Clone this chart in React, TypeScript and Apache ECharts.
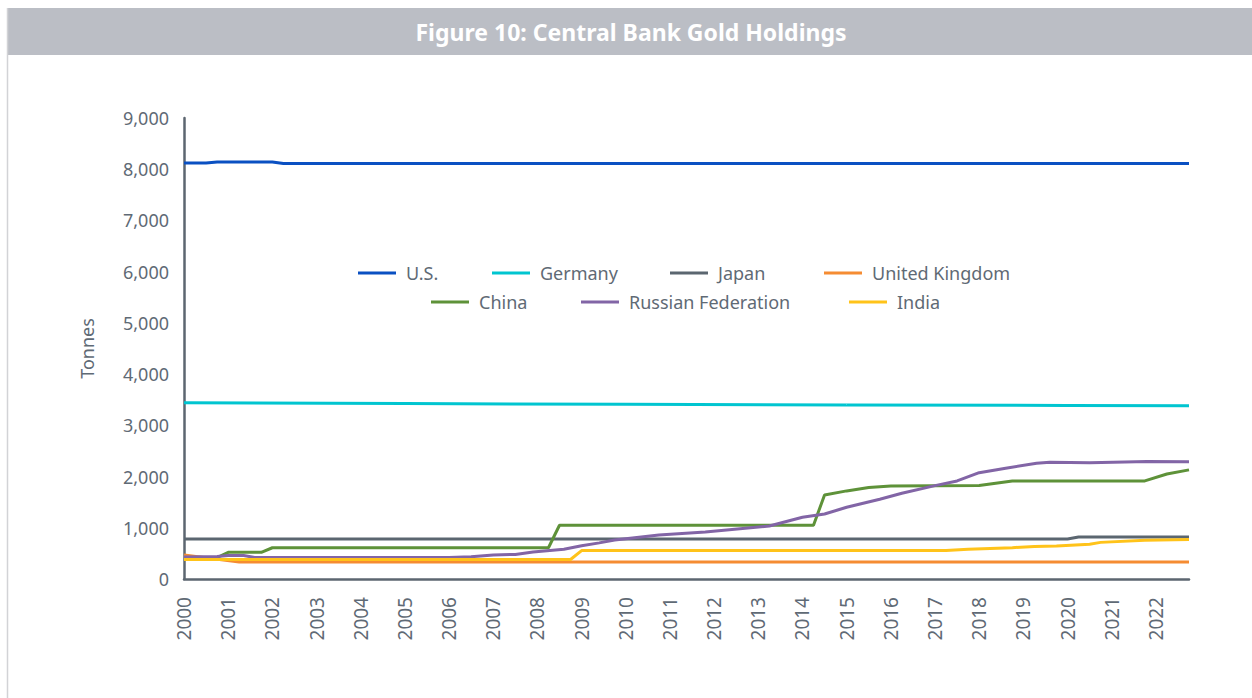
import React, { useEffect, useRef } from "react";
import * as echarts from "echarts";

const TITLE = "Figure 10: Central Bank Gold Holdings";
const Y_NAME = "Tonnes";
const SERIES_NAMES = ["U.S.", "Germany", "Japan", "United Kingdom", "China", "Russian Federation", "India"];
const COLORS = ["#0A50C2", "#00C5D0", "#5B6670", "#F58C32", "#5E9239", "#8265A6", "#FFC31A"];
const Y_TICKS = [0, 1000, 2000, 3000, 4000, 5000, 6000, 7000, 8000, 9000];
const X_START = 2000;
const X_END = 2022.75;

// Year positions (decimal years) and holdings (tonnes)
const US_X = [2000, 2000.5, 2000.75, 2002.0, 2002.25, 2022.75];
const US_Y = [8120, 8120, 8140, 8140, 8110, 8110];

const DE_X = [2000, 2005, 2010, 2015, 2020, 2022.75];
const DE_Y = [3440, 3424, 3410, 3398, 3388, 3383];

const JP_X = [2000, 2020, 2020.25, 2022.75];
const JP_Y = [780, 780, 820, 820];

const UK_X = [2000, 2001.25, 2022.75];
const UK_Y = [470, 330, 330];

const CN_X = [2000, 2000.75, 2001, 2001.75, 2002, 2008.25, 2008.5, 2014.25, 2014.5, 2015, 2015.5, 2016, 2018, 2018.75, 2021.75, 2022.25, 2022.75];
const CN_Y = [420, 420, 520, 520, 610, 610, 1050, 1050, 1640, 1720, 1785, 1815, 1825, 1915, 1915, 2050, 2130];

const RU_X = [2000, 2000.75, 2001, 2001.35, 2001.6, 2006, 2006.5, 2007, 2007.5, 2007.9, 2008.6, 2009, 2009.4, 2009.75, 2010.75, 2011.8, 2013.25, 2014, 2014.5, 2015, 2015.75, 2016.25, 2017, 2017.5, 2018, 2018.6, 2019.3, 2019.6, 2020.5, 2021.3, 2021.8, 2022.75];
const RU_Y = [430, 440, 460, 460, 420, 420, 436, 469, 480, 525, 580, 650, 705, 760, 859, 918, 1035, 1205, 1270, 1400, 1556, 1673, 1823, 1914, 2076, 2162, 2259, 2280, 2270, 2285, 2295, 2291];

const IN_X = [2000, 2008.75, 2009, 2017.25, 2017.75, 2018.75, 2019.25, 2019.75, 2020.5, 2020.75, 2021.75, 2022.75];
const IN_Y = [380, 380, 555, 555, 580, 612, 635, 645, 680, 715, 755, 770];

const SERIES_X = [US_X, DE_X, JP_X, UK_X, CN_X, RU_X, IN_X];
const SERIES_Y = [US_Y, DE_Y, JP_Y, UK_Y, CN_Y, RU_Y, IN_Y];

// Legend item placement (two rows, as in the figure)
const LEGEND_LEFT = [358, 492, 670, 824, 431, 581, 849];
const LEGEND_ROW = [0, 0, 0, 0, 1, 1, 1];
const LEGEND_TOP = [264, 293];

const FONT = "Noto Sans";
const TEXT_COLOR = "#5F6A75";
const AXIS_COLOR = "#5C6670";

export default function App() {
  const ref = useRef<HTMLDivElement>(null);
  useEffect(() => {
    if (!ref.current) return;
    const chart = echarts.init(ref.current, undefined, { renderer: "svg" });
    chart.setOption({
      animation: false,
      backgroundColor: "#ffffff",
      color: COLORS,
      graphic: [
        { type: "rect", shape: { x: 8, y: 8, width: 1244, height: 47 }, style: { fill: "#BBBEC5" }, silent: true },
        { type: "line", shape: { x1: 7.5, y1: 8, x2: 7.5, y2: 698 }, style: { stroke: "#D2D3D6", lineWidth: 1.5 }, silent: true },
        {
          type: "text",
          x: 631,
          y: 32,
          style: {
            text: TITLE,
            fill: "#ffffff",
            font: `bold 23px "${FONT}"`,
            textAlign: "center",
            textVerticalAlign: "middle",
          },
          silent: true,
        },
      ],
      legend: SERIES_NAMES.map((name, i) => ({
        data: [name],
        icon: "rect",
        itemWidth: 38,
        itemHeight: 3,
        padding: 0,
        left: LEGEND_LEFT[i],
        top: LEGEND_TOP[LEGEND_ROW[i]],
        textStyle: { fontFamily: FONT, fontSize: 18, color: TEXT_COLOR, padding: [0, 0, 0, 5] },
      })),
      grid: { left: 184, right: 63, top: 118, bottom: 119, containLabel: false },
      xAxis: {
        type: "value",
        min: X_START,
        max: X_END,
        interval: 1,
        axisLine: { show: true, lineStyle: { color: AXIS_COLOR, width: 2.5 } },
        axisTick: { show: false },
        splitLine: { show: false },
        axisLabel: {
          rotate: 90,
          margin: 18,
          fontFamily: FONT,
          fontSize: 19,
          color: TEXT_COLOR,
          showMaxLabel: false,
          formatter: (v: number) => (Number.isInteger(v) ? String(v) : ""),
        },
      },
      yAxis: {
        type: "value",
        min: Y_TICKS[0],
        max: Y_TICKS[Y_TICKS.length - 1],
        interval: Y_TICKS[1] - Y_TICKS[0],
        name: Y_NAME,
        nameLocation: "middle",
        nameRotate: 90,
        nameGap: 88,
        nameTextStyle: { fontFamily: FONT, fontSize: 18, color: TEXT_COLOR },
        axisLine: { show: true, lineStyle: { color: AXIS_COLOR, width: 2.5 } },
        axisTick: { show: false },
        splitLine: { show: false },
        axisLabel: {
          margin: 15,
          fontFamily: FONT,
          fontSize: 18,
          color: TEXT_COLOR,
          formatter: (v: number) => v.toLocaleString("en-US"),
        },
      },
      series: SERIES_NAMES.map((name, i) => ({
        name,
        type: "line",
        symbol: "none",
        lineStyle: { width: 3, color: COLORS[i] },
        itemStyle: { color: COLORS[i] },
        data: SERIES_X[i].map((x, j) => [x, SERIES_Y[i][j]]),
      })),
    });
    return () => chart.dispose();
  }, []);
  return <div ref={ref} style={{ position: "fixed", left: 0, top: 0, width: 1252, height: 698, background: "#fff" }} />;
}
